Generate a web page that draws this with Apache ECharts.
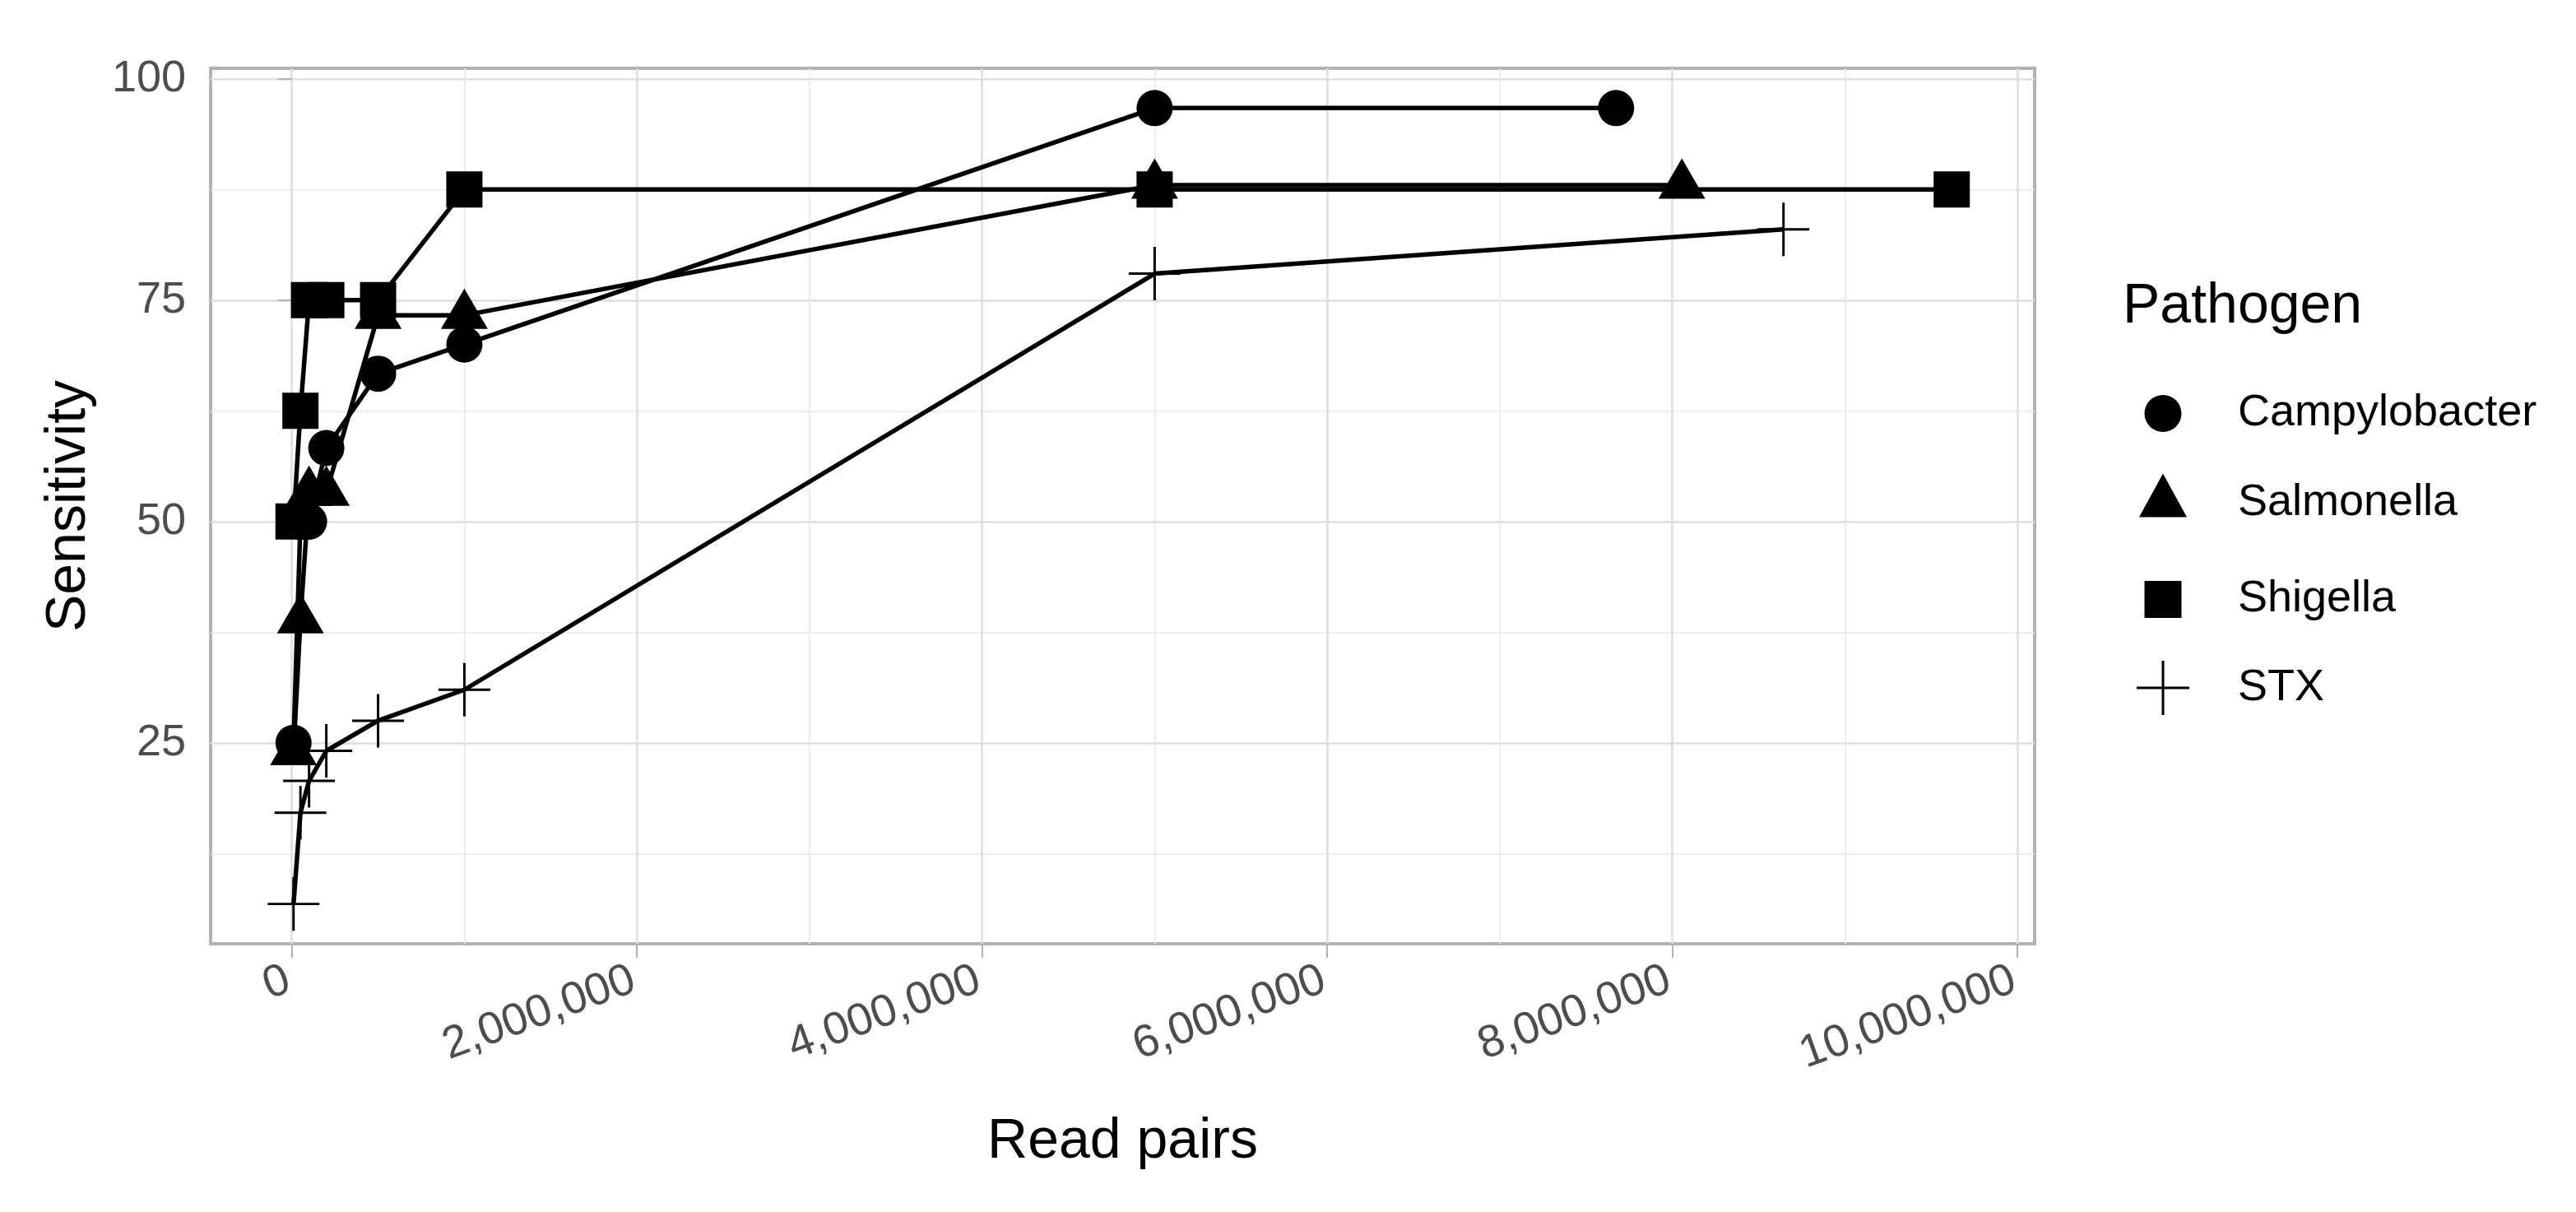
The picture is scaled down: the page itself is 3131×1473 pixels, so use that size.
<!DOCTYPE html>
<html>
<head>
<meta charset="utf-8">
<script src="https://cdn.jsdelivr.net/npm/echarts@6/dist/echarts.min.js"></script>
<style>
  html, body { margin: 0; padding: 0; background: #fff; }
  #chart { width: 3131px; height: 1473px; }
</style>
</head>
<body>
<div id="chart"></div>
<script>
// read pairs sampled, last value = full depth of the sample
const campyX = [10000, 50000, 100000, 200000, 500000, 1000000, 5000000, 7674000];
const campyY = [25, 50, 50, 58.3, 66.7, 70, 96.7, 96.7];
const salmX = [10000, 50000, 100000, 200000, 500000, 1000000, 5000000, 8055000];
const salmY = [24, 38.9, 53.3, 53.3, 73.3, 73.3, 88, 88];
const shigX = [10000, 50000, 100000, 200000, 500000, 1000000, 5000000, 9619000];
const shigY = [50, 62.5, 75, 75, 75, 87.5, 87.5, 87.5];
const stxX = [10000, 50000, 100000, 200000, 500000, 1000000, 5000000, 8644000];
const stxY = [6.8, 17.1, 20.7, 24.1, 27.5, 31, 78, 83];

const xMajor = [0, 2000000, 4000000, 6000000, 8000000, 10000000];
const xMinor = [1000000, 3000000, 5000000, 7000000, 9000000];
const yMajor = [25, 50, 75, 100];
const yMinor = [12.5, 37.5, 62.5, 87.5];

const FONT = "'Liberation Sans', Arial, sans-serif";
const CROSS = "path://M0,31.5L64,31.5L64,34.5L0,34.5Z M30.5,0L33.5,0L33.5,66L30.5,66Z";
// triangle with empty space below so the box centre sits on the centroid
const TRI_KEY = "path://M29,0L58,53L0,53Z M29,71";

const pairs = (xs, ys) => xs.map((x, i) => [x, ys[i]]);

// ggplot like 5% expand
function expand(vals) {
  const lo = Math.min(...vals), hi = Math.max(...vals);
  const pad = (hi - lo) * 0.05;
  return [lo - pad, hi + pad];
}
const xr = expand([].concat(campyX, salmX, shigX, stxX));
const yr = expand([].concat(campyY, salmY, shigY, stxY));

function commas(v) {
  return String(Math.round(v)).replace(/\B(?=(\d{3})+(?!\d))/g, ",");
}

const chart = echarts.init(document.getElementById("chart"));

const pathogens = [
  { name: "Campylobacter", x: campyX, y: campyY, symbol: "circle", size: 44, offset: [0, 0] },
  { name: "Salmonella", x: salmX, y: salmY, symbol: "triangle", size: [57, 49], offset: [0, -8] },
  { name: "Shigella", x: shigX, y: shigY, symbol: "rect", size: 44, offset: [0, 0] },
  { name: "STX", x: stxX, y: stxY, symbol: CROSS, size: [63, 65], offset: [0, 0] },
];

const series = [];
pathogens.forEach((p) => {
  series.push({
    name: p.name,
    type: "line",
    data: pairs(p.x, p.y),
    symbol: "none",
    lineStyle: { color: "#000", width: 5.5 },
    itemStyle: { color: "#000" },
    z: 2,
    animation: false,
  });
});
pathogens.forEach((p) => {
  series.push({
    name: p.name,
    type: "scatter",
    data: pairs(p.x, p.y),
    symbol: p.symbol,
    symbolSize: p.size,
    symbolOffset: p.offset,
    symbolKeepAspect: false,
    itemStyle: { color: "#000", opacity: 1 },
    z: 3,
    animation: false,
  });
});

// one legend per key so each icon gets its own size
const keys = [
  { name: "Campylobacter", icon: "circle", w: 45, h: 45, cy: 498 },
  { name: "Salmonella", icon: TRI_KEY, w: 58, h: 71, cy: 611 },
  { name: "Shigella", icon: "rect", w: 45, h: 45, cy: 724 },
  { name: "STX", icon: CROSS, w: 64, h: 66, cy: 836 },
];
const legends = keys.map((k) => ({
  data: [{ name: k.name, icon: k.icon }],
  left: 2629 - k.w / 2,
  top: k.cy - k.h / 2,
  orient: "vertical",
  padding: 0,
  itemWidth: k.w,
  itemHeight: k.h,
  selectedMode: false,
  itemStyle: { color: "#000", borderWidth: 0 },
  textStyle: {
    fontFamily: FONT,
    fontSize: 54,
    color: "#000",
    padding: [0, 0, 0, 2720 - (2629 + k.w / 2 + 5)],
  },
}));

const gridLine = (w, c) => ({ show: true, lineStyle: { color: c, width: w } });

chart.setOption({
  backgroundColor: "#fff",
  animation: false,
  title: {
    text: "Pathogen",
    left: 2575,
    top: 334,
    textStyle: { fontFamily: FONT, fontSize: 68, fontWeight: "normal", color: "#000" },
  },
  legend: legends,
  grid: {
    left: 256,
    top: 83,
    width: 2217,
    height: 1064,
    show: true,
    borderColor: "#B3B3B3",
    borderWidth: 4,
    backgroundColor: "transparent",
    containLabel: false,
    outerBoundsMode: "none",
  },
  xAxis: [
    {
      type: "value",
      min: xr[0],
      max: xr[1],
      axisLine: { show: false },
      axisTick: { show: true, length: 17, customValues: xMajor, lineStyle: { color: "#B3B3B3", width: 2 } },
      axisLabel: {
        customValues: xMajor,
        rotate: 20,
        align: "right",
        verticalAlign: "top",
        margin: 12,
        padding: [0, 14, 0, 0],
        fontFamily: FONT,
        fontSize: 55,
        color: "#4D4D4D",
        formatter: commas,
      },
      splitLine: gridLine(2.5, "#DEDEDE"),
      name: "Read pairs",
      nameLocation: "middle",
      nameGap: 207,
      nameTextStyle: { fontFamily: FONT, fontSize: 68, color: "#000" },
    },
    {
      type: "value",
      min: xr[0],
      max: xr[1],
      position: "bottom",
      axisLine: { show: false },
      axisTick: { show: false, customValues: xMinor },
      axisLabel: { show: false, customValues: xMinor },
      splitLine: gridLine(1.5, "#E8E8E8"),
    },
  ],
  yAxis: [
    {
      type: "value",
      min: yr[0],
      max: yr[1],
      axisLine: { show: false },
      axisTick: { show: true, length: 17, customValues: yMajor, lineStyle: { color: "#B3B3B3", width: 2 } },
      axisLabel: {
        customValues: yMajor,
        margin: 30,
        fontFamily: FONT,
        fontSize: 54,
        color: "#4D4D4D",
      },
      splitLine: gridLine(2.5, "#DEDEDE"),
      name: "Sensitivity",
      nameLocation: "middle",
      nameGap: 138,
      nameTextStyle: { fontFamily: FONT, fontSize: 68, color: "#000" },
    },
    {
      type: "value",
      min: yr[0],
      max: yr[1],
      position: "left",
      axisLine: { show: false },
      axisTick: { show: false, customValues: yMinor },
      axisLabel: { show: false, customValues: yMinor },
      splitLine: gridLine(1.5, "#E8E8E8"),
    },
  ],
  series: series,
});
</script>
</body>
</html>
